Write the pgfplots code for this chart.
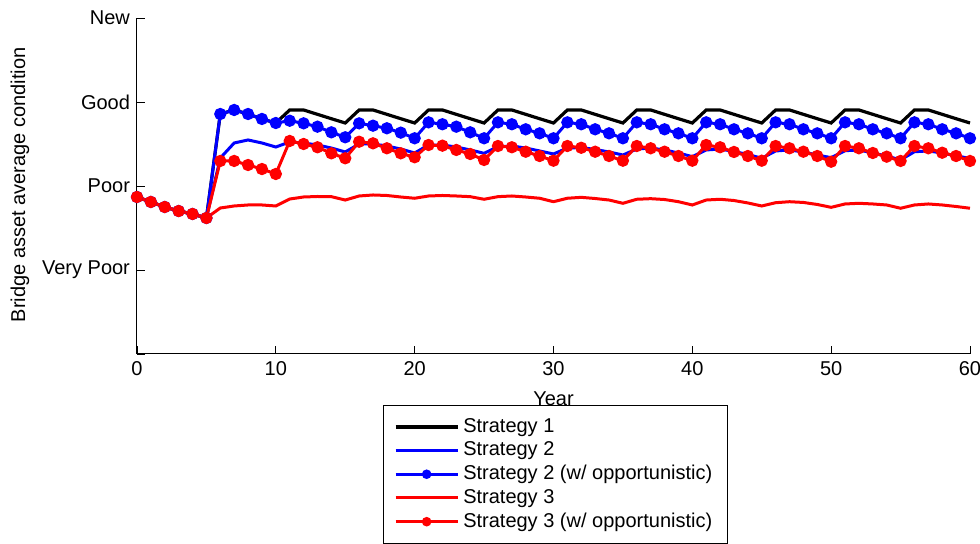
\documentclass[border=0pt]{standalone}
\usepackage{pgfplots}
\pgfplotsset{compat=1.18}
\usepackage{pgfplotstable}
\usepackage{fontspec}
\setmainfont{Liberation Sans}
\pgfplotstableread{
year s1 s2 s2o s3 s3o
0 2.869 2.869 2.869 2.869 2.869
1 2.810 2.810 2.810 2.810 2.810
2 2.750 2.750 2.750 2.750 2.750
3 2.702 2.702 2.702 2.702 2.702
4 2.667 2.667 2.667 2.667 2.667
5 2.619 2.619 2.619 2.619 2.619
6 3.857 3.333 3.857 2.738 3.298
7 3.905 3.512 3.905 2.762 3.298
8 3.857 3.548 3.857 2.774 3.250
9 3.798 3.512 3.798 2.774 3.202
10 3.750 3.464 3.750 2.762 3.143
11 3.905 3.524 3.777 2.845 3.536
12 3.905 3.512 3.746 2.869 3.500
13 3.853 3.488 3.706 2.875 3.461
14 3.801 3.452 3.639 2.873 3.389
15 3.750 3.405 3.580 2.833 3.330
16 3.905 3.500 3.746 2.881 3.527
17 3.905 3.500 3.718 2.893 3.508
18 3.853 3.476 3.687 2.887 3.449
19 3.801 3.440 3.635 2.869 3.389
20 3.750 3.393 3.568 2.854 3.342
21 3.905 3.488 3.758 2.881 3.488
22 3.905 3.488 3.735 2.887 3.480
23 3.853 3.464 3.706 2.881 3.429
24 3.801 3.429 3.639 2.873 3.381
25 3.750 3.389 3.568 2.842 3.310
26 3.905 3.468 3.758 2.873 3.476
27 3.905 3.476 3.735 2.881 3.461
28 3.853 3.452 3.675 2.869 3.408
29 3.801 3.417 3.627 2.854 3.357
30 3.750 3.381 3.568 2.813 3.301
31 3.905 3.452 3.758 2.854 3.476
32 3.905 3.458 3.735 2.865 3.455
33 3.853 3.435 3.675 2.851 3.408
34 3.801 3.405 3.627 2.833 3.357
35 3.750 3.369 3.568 2.794 3.301
36 3.905 3.440 3.758 2.842 3.476
37 3.905 3.452 3.735 2.849 3.449
38 3.853 3.429 3.675 2.839 3.408
39 3.801 3.393 3.627 2.813 3.357
40 3.750 3.349 3.568 2.774 3.301
41 3.905 3.429 3.758 2.833 3.488
42 3.905 3.440 3.735 2.842 3.461
43 3.853 3.411 3.675 2.827 3.405
44 3.801 3.375 3.627 2.798 3.357
45 3.750 3.330 3.568 2.762 3.301
46 3.905 3.417 3.758 2.801 3.476
47 3.905 3.429 3.735 2.813 3.449
48 3.853 3.405 3.675 2.804 3.408
49 3.801 3.369 3.627 2.780 3.357
50 3.750 3.337 3.568 2.746 3.289
51 3.905 3.420 3.758 2.786 3.476
52 3.905 3.429 3.735 2.794 3.449
53 3.853 3.393 3.675 2.786 3.393
54 3.801 3.357 3.627 2.774 3.349
55 3.750 3.310 3.568 2.735 3.298
56 3.905 3.408 3.758 2.774 3.476
57 3.905 3.417 3.735 2.786 3.449
58 3.853 3.393 3.675 2.774 3.396
59 3.801 3.357 3.627 2.756 3.357
60 3.750 3.330 3.568 2.735 3.298
}\datatable
\begin{document}
\begin{tikzpicture}
\path[use as bounding box] (-68.5pt,-95pt) rectangle (421.5pt,177pt);
\clip (-68.5pt,-95pt) rectangle (421.5pt,177pt);
\begin{axis}[
  at={(0,0)}, anchor=south west,
  scale only axis, width=416.5pt, height=168pt,
  xmin=0, xmax=60, ymin=1, ymax=5,
  axis lines=left, axis line style={-, line width=0.5pt},
  xtick={0,10,...,60},
  ytick={1,2,3,4,5},
  yticklabels={,Very Poor,Poor,Good,New},
  tick align=inside, major tick length=4pt,
  tick style={black, line width=0.4pt},
  font=\fontsize{10}{12}\selectfont,
  ticklabel style={font=\fontsize{10}{12}\selectfont},
  /pgf/number format/assume math mode=true,
  xlabel={Year},
  xlabel style={at={(axis description cs:0.5,-0.134)}, anchor=center},
  ylabel={Bridge asset average condition},
  ylabel style={at={(axis description cs:-0.1405,0.503)}, anchor=center},
  clip=false,
  legend cell align=left,
  legend style={at={(0.502,-0.152)}, anchor=north, draw=black, line width=0.5pt,
    font=\fontsize{10}{11.75}\selectfont, inner xsep=5.5pt, inner ysep=4.5pt,
    row sep=-0.75pt},
  legend image code/.code={\draw[mark repeat=2,mark phase=2, mark size=1.6pt] plot coordinates {(0pt,0pt) (15.5pt,0pt) (31pt,0pt)};},
]
\addplot[black, line width=1.6pt, no marks] table[x=year, y=s1] {\datatable};
\addlegendentry{Strategy 1}
\addplot[blue, line width=1.5pt, no marks] table[x=year, y=s2] {\datatable};
\addlegendentry{Strategy 2}
\addplot[blue, line width=1.5pt, mark=*, mark size=2.3pt, mark options={solid, fill=blue}] table[x=year, y=s2o] {\datatable};
\addlegendentry{Strategy 2 (w/ opportunistic)}
\addplot[red, line width=1.5pt, no marks] table[x=year, y=s3] {\datatable};
\addlegendentry{Strategy 3}
\addplot[red, line width=1.5pt, mark=*, mark size=2.3pt, mark options={solid, fill=red}] table[x=year, y=s3o] {\datatable};
\addlegendentry{Strategy 3 (w/ opportunistic)}
\end{axis}
\end{tikzpicture}
\end{document}
